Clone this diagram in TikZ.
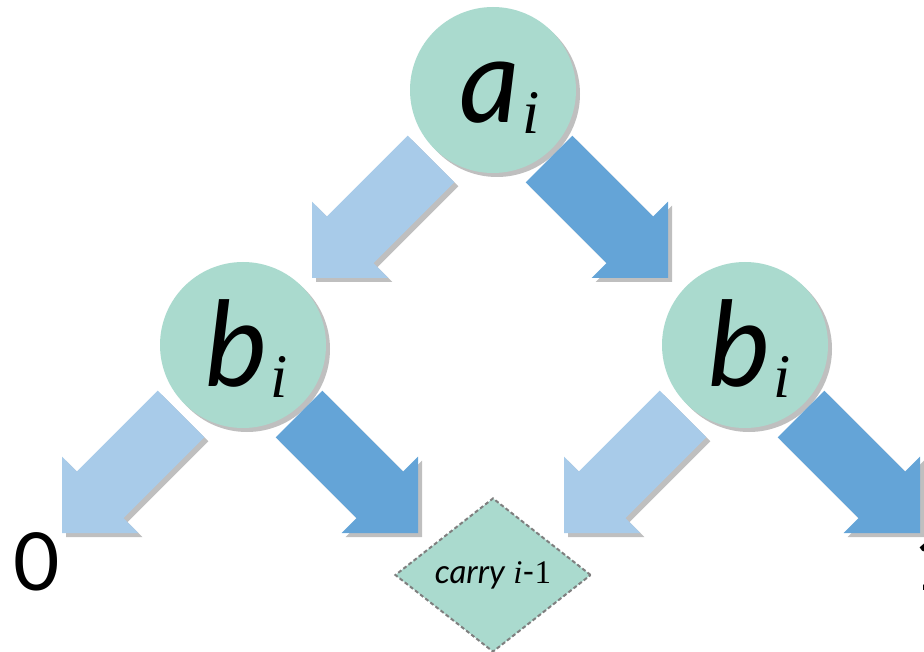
\documentclass[tikz,border=0pt]{standalone}
\usepackage{fontspec}
\setmainfont{Lato}
\newfontfamily\serifface{Liberation Serif}
\usetikzlibrary{calc,shapes.geometric,shadows}
\definecolor{Mint}{HTML}{AADACE}
\definecolor{LightArrow}{HTML}{A8CBE9}
\definecolor{DarkArrow}{HTML}{64A4D7}
\definecolor{Shade}{HTML}{BFBFBF}
\definecolor{Edge}{HTML}{7F7F7F}

% block arrow: tail, tip, fill
\newcommand{\fatshape}[3]{%
  \coordinate (fatm) at ($(#2)!54pt!(#1)$);
  \fill[#3] ($(#1)!33pt!90:(#2)$) -- ($(fatm)!33pt!90:(#2)$) -- ($(fatm)!54pt!90:(#2)$) -- (#2)
    -- ($(fatm)!54pt!-90:(#2)$) -- ($(fatm)!33pt!-90:(#2)$) -- ($(#1)!33pt!-90:(#2)$) -- cycle;}
\newcommand{\fatarrow}[3]{%
  \fatshape{#1}{#2}{Shade,transform canvas={xshift=4pt,yshift=-4pt}}%
  \fatshape{#1}{#2}{#3}}
\newcommand{\subi}{\raisebox{-11pt}{\fontsize{62}{62}\selectfont\serifface\itshape i}}

\tikzset{
  bubble/.style={circle,fill=Mint,minimum size=166pt,inner sep=0pt,
    drop shadow={shadow xshift=4pt,shadow yshift=-4pt,fill=Shade,opacity=1}},
  bigvar/.style={anchor=base west,inner sep=0pt,font={\fontsize{118}{118}\selectfont\itshape}},
  leaf/.style={inner sep=0pt,font={\fontsize{80}{80}\selectfont}}
}

\begin{document}
\begin{tikzpicture}[x=1pt,y=-1pt]
\useasboundingbox (0,0) rectangle (924,652);
\clip (0,0) rectangle (924,652);
\node[bubble] (a) at (493,90) {};
\node[bubble] (bl) at (243,345) {};
\node[bubble] (br) at (745,345) {};
\node[bigvar] (alab) at (459,123) {a\kern3pt\subi};
\node[bigvar] (bllab) at (205,386) {b\kern3pt\subi};
\node[bigvar] (brlab) at (708,386) {b\kern3pt\subi};
\foreach \n in {a,bl,br} {
  \coordinate (\n-lt) at ($(\n)+(-62,69)$);
  \coordinate (\n-lh) at ($(\n)+(-181,188)$);
  \coordinate (\n-rt) at ($(\n)+(56,69)$);
  \coordinate (\n-rh) at ($(\n)+(175,188)$);
  \fatarrow{\n-lt}{\n-lh}{LightArrow}
  \fatarrow{\n-rt}{\n-rh}{DarkArrow}
}
\node[leaf] (zero) at (37,562) {0};
\node[leaf] (one) at (937,562) {1};
\node[diamond,fill=Mint,draw=Edge,line width=2pt,dash pattern=on 4pt off 2.5pt,
  minimum width=196pt,minimum height=154pt,inner sep=0pt,
  font={\fontsize{33}{33}\selectfont}] (carry) at (493,575) {{\itshape carry} {\serifface\itshape i}-{\serifface 1}};
\end{tikzpicture}
\end{document}
